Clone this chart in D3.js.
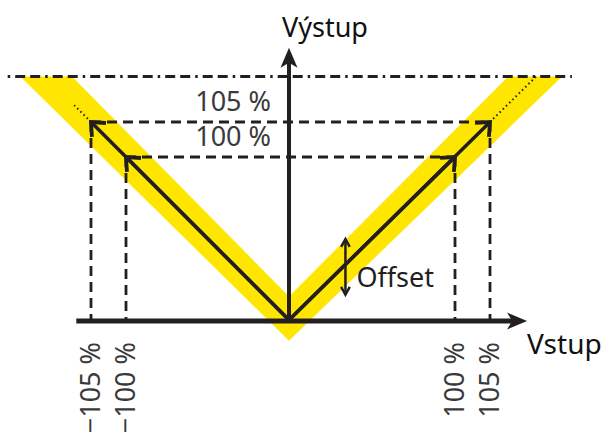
<!DOCTYPE html>
<html>
<head>
<meta charset="utf-8">
<script src="https://cdn.jsdelivr.net/npm/d3@7"></script>
<style>
  html, body { margin: 0; padding: 0; background: #fff; }
  svg { display: block; font-family: "Noto Sans", "Open Sans", sans-serif; }
</style>
</head>
<body>
<div id="chart"></div>
<script>
// schematic values, in percent of the input / output range
const levels = [100, 105];
const levelLabels = ["100 %", "105 %"];
const tickValues = [-105, -100, 100, 105];
const tickLabels = ["\u2212105 %", "\u2212100 %", "100 %", "105 %"];
const limitLevel = 111.5;          // dash-dot line (output limit)
const bandX = [-115.1, -107.7, 0, 107.6, 115.3, 0];
const bandY = [limitLevel, limitLevel, 15, limitLevel, limitLevel, -12];
const dottedEnd = [[-107.4, 107.4], [111.6, limitLevel]];
const xAxisExtent = [-107.1, 110.3];
const yAxisExtent = [0, 115.6];
const limitExtent = [-116.9, 116.7];
const offsetX = 34;
const offsetRange = [16, 50];
const axisNames = { x: "Vstup", y: "V\u00fdstup" };

const width = 604, height = 437;

// the picture is not to scale: the 100..105 % step is stretched
const x = d3.scaleLinear()
  .domain([-105, -100, 0, 100, 105])
  .range([91, 126, 289, 455, 490]);
const y = d3.scaleLinear()
  .domain([0, 100, 105])
  .range([321, 157, 122]);

const svg = d3.select("#chart").append("svg")
  .attr("width", width)
  .attr("height", height)
  .attr("viewBox", [0, 0, width, height]);

const ink = "#231f20";

// yellow tolerance band
svg.append("polygon")
  .attr("points", bandX.map((v, i) => [x(v), y(bandY[i])].join(",")).join(" "))
  .attr("fill", "#ffe600");

// output limit, dash-dot
svg.append("line")
  .attr("x1", x(limitExtent[0])).attr("x2", x(limitExtent[1]))
  .attr("y1", y(limitLevel)).attr("y2", y(limitLevel))
  .attr("stroke", ink).attr("stroke-width", 3)
  .attr("stroke-dasharray", "10,5,10,5,2.5,5")
  .attr("stroke-dashoffset", 30);

// dashed guides
const guides = svg.append("g")
  .attr("stroke", ink).attr("stroke-width", 2.8)
  .attr("stroke-dasharray", "10,6").attr("fill", "none");
levels.forEach(l => {
  guides.append("line")
    .attr("x1", x(-l)).attr("x2", x(l))
    .attr("y1", y(l)).attr("y2", y(l));
  [-l, l].forEach(v => {
    guides.append("line")
      .attr("x1", x(v)).attr("x2", x(v))
      .attr("y1", y(l)).attr("y2", y(0));
  });
});

// dotted continuation above 105 %
dottedEnd.forEach(([ex, ey]) => {
  const sx = ex < 0 ? -105 : 105;
  svg.append("line")
    .attr("x1", x(sx)).attr("y1", y(105))
    .attr("x2", x(ex)).attr("y2", y(ey))
    .attr("stroke", ink).attr("stroke-width", 2)
    .attr("stroke-dasharray", "1.5,3");
});

function chevron(g, px, py, ang, len, spread, sw) {
  const a1 = ang + Math.PI - spread, a2 = ang + Math.PI + spread;
  g.append("polyline")
    .attr("points", [
      [px + len * Math.cos(a1), py + len * Math.sin(a1)],
      [px, py],
      [px + len * Math.cos(a2), py + len * Math.sin(a2)]
    ].map(p => p.join(",")).join(" "))
    .attr("fill", "none").attr("stroke", ink)
    .attr("stroke-width", sw).attr("stroke-linejoin", "miter")
    .attr("stroke-linecap", "butt");
}

// characteristic lines with arrows
const vLines = svg.append("g");
levels.forEach(l => {
  [-l, l].forEach(v => {
    const px = x(v), py = y(l);
    const ox = x(0), oy = y(0) - 1;
    vLines.append("line")
      .attr("x1", ox).attr("y1", oy).attr("x2", px).attr("y2", py)
      .attr("stroke", ink).attr("stroke-width", 3.5);
    chevron(vLines, px, py, Math.atan2(py - oy, px - ox), 15, 0.72, 3.8);
  });
});

// axes
svg.append("line")
  .attr("x1", x(xAxisExtent[0])).attr("x2", x(xAxisExtent[1]) - 10)
  .attr("y1", y(0)).attr("y2", y(0))
  .attr("stroke", ink).attr("stroke-width", 5);
svg.append("line")
  .attr("x1", x(0)).attr("x2", x(0))
  .attr("y1", y(0) + 2).attr("y2", y(yAxisExtent[1]) + 10)
  .attr("stroke", ink).attr("stroke-width", 4);

const xt = x(xAxisExtent[1]), yt = y(yAxisExtent[1]);
svg.append("polygon")
  .attr("points", [[xt, y(0)], [xt - 20, y(0) - 8.5], [xt - 15, y(0)], [xt - 20, y(0) + 8.5]].map(p => p.join(",")).join(" "))
  .attr("fill", ink);
svg.append("polygon")
  .attr("points", [[x(0), yt], [x(0) - 8.5, yt + 20], [x(0), yt + 15], [x(0) + 8.5, yt + 20]].map(p => p.join(",")).join(" "))
  .attr("fill", ink);

// offset arrow
const ofs = svg.append("g");
ofs.append("line")
  .attr("x1", x(offsetX)).attr("x2", x(offsetX))
  .attr("y1", y(offsetRange[0])).attr("y2", y(offsetRange[1]))
  .attr("stroke", ink).attr("stroke-width", 2.5);
chevron(ofs, x(offsetX), y(offsetRange[1]), -Math.PI / 2, 9, 0.5, 2.5);
chevron(ofs, x(offsetX), y(offsetRange[0]), Math.PI / 2, 9, 0.5, 2.5);
svg.append("text")
  .attr("x", x(offsetX) + 11).attr("y", y(offsetRange[0]) - 8)
  .attr("font-size", 27).attr("fill", ink)
  .text("Offset");

// level labels
svg.append("g").selectAll("text")
  .data(levels)
  .join("text")
  .attr("x", x(0) - 18)
  .attr("y", d => y(d) - 11)
  .attr("text-anchor", "end")
  .attr("font-size", 27)
  .attr("fill", "#3a3a3a")
  .text((d, i) => levelLabels[i]);

// rotated tick labels under the input axis
svg.append("g").selectAll("text")
  .data(tickValues)
  .join("text")
  .attr("transform", d => `translate(${x(d) + 9},${y(0) + 21}) rotate(-90)`)
  .attr("text-anchor", "end")
  .attr("font-size", 27)
  .attr("fill", "#3a3a3a")
  .text((d, i) => tickLabels[i]);

// axis names
svg.append("text")
  .attr("x", xt).attr("y", y(0) + 33)
  .attr("font-size", 28).attr("fill", "#111")
  .text(axisNames.x);
svg.append("text")
  .attr("x", x(0) - 7).attr("y", yt - 11)
  .attr("font-size", 27).attr("fill", "#111")
  .text(axisNames.y);
</script>
</body>
</html>
